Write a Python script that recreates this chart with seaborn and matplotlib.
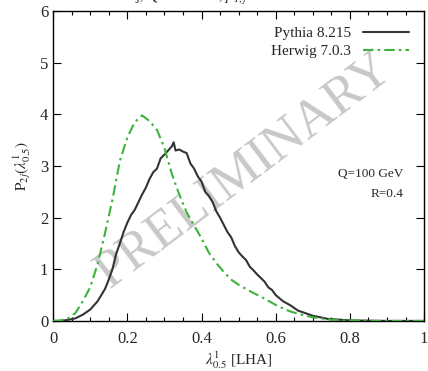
import numpy as np
import pandas as pd
import matplotlib
matplotlib.use("Agg")
import matplotlib.pyplot as plt
import seaborn as sns
from matplotlib.ticker import MultipleLocator

# ---- data ----
pythia_x = [0, 0.02, 0.04, 0.06, 0.08, 0.10, 0.12, 0.13, 0.14, 0.15, 0.16, 0.17, 0.18, 0.19,
            0.20, 0.21, 0.22, 0.23, 0.24, 0.25, 0.26, 0.27, 0.28, 0.29, 0.30, 0.31, 0.32, 0.325,
            0.33, 0.34, 0.35, 0.36, 0.37, 0.38, 0.39, 0.40, 0.41, 0.42, 0.43, 0.44, 0.45, 0.46,
            0.47, 0.48, 0.49, 0.50, 0.51, 0.52, 0.53, 0.54, 0.55, 0.56, 0.57, 0.58, 0.59, 0.60,
            0.62, 0.64, 0.66, 0.68, 0.70, 0.72, 0.74, 0.76, 0.78, 0.80, 0.85, 0.90, 1.00]
pythia_y = [0, 0.0, 0.02, 0.05, 0.12, 0.22, 0.38, 0.50, 0.62, 0.80, 1.00, 1.30, 1.50, 1.72,
            1.90, 2.05, 2.15, 2.30, 2.45, 2.58, 2.75, 2.88, 2.95, 3.15, 3.22, 3.30, 3.38, 3.46,
            3.30, 3.32, 3.28, 3.25, 3.05, 2.95, 2.80, 2.70, 2.50, 2.42, 2.30, 2.12, 2.00, 1.86,
            1.72, 1.62, 1.45, 1.33, 1.25, 1.18, 1.05, 0.98, 0.90, 0.83, 0.76, 0.65, 0.60, 0.50,
            0.38, 0.30, 0.20, 0.15, 0.10, 0.07, 0.04, 0.03, 0.02, 0.01, 0.005, 0.0, 0.0]

herwig_x = [0, 0.02, 0.04, 0.06, 0.08, 0.10, 0.12, 0.14, 0.16, 0.18, 0.20, 0.22, 0.24, 0.26,
            0.28, 0.30, 0.32, 0.34, 0.36, 0.38, 0.40, 0.42, 0.44, 0.46, 0.48, 0.50, 0.52, 0.54,
            0.56, 0.58, 0.60, 0.62, 0.64, 0.66, 0.68, 0.70, 0.72, 0.74, 0.76, 0.78, 0.80, 0.85,
            0.90, 1.00]
herwig_y = [0, 0.01, 0.05, 0.15, 0.38, 0.65, 1.10, 1.70, 2.35, 3.10, 3.55, 3.85, 3.98, 3.87,
            3.70, 3.35, 2.85, 2.45, 2.10, 1.85, 1.60, 1.32, 1.12, 0.95, 0.80, 0.70, 0.62, 0.54,
            0.47, 0.39, 0.31, 0.24, 0.18, 0.14, 0.10, 0.07, 0.05, 0.03, 0.02, 0.01, 0.01, 0.0,
            0.0, 0.0]

series_names = ["Pythia 8.215", "Herwig 7.0.3"]
x_ticks = [0, 0.2, 0.4, 0.6, 0.8, 1.0]
x_tick_labels = ["0", "0.2", "0.4", "0.6", "0.8", "1"]

df = pd.concat([
    pd.DataFrame({"x": pythia_x, "y": pythia_y, "gen": series_names[0]}),
    pd.DataFrame({"x": herwig_x, "y": herwig_y, "gen": series_names[1]}),
])

sns.set_theme(style="ticks")
plt.rcParams["font.family"] = ["Liberation Serif", "DejaVu Serif"]
plt.rcParams["mathtext.fontset"] = "stix"

fig = plt.figure(figsize=(4.28, 3.71), dpi=100)
ax = fig.add_axes([0.124, 0.135, 0.867, 0.835])

palette = {series_names[0]: "#333333", series_names[1]: "#3cb33c"}
sns.lineplot(data=df, x="x", y="y", hue="gen", palette=palette, ax=ax,
             linewidth=1.5, legend=False, sort=False, zorder=3)
ax.lines[1].set_dashes([5, 2, 1.2, 2])

# watermark
ax.text(0.515, 2.9, "PRELIMINARY", rotation=37, fontsize=38, color="#c8c8c8",
        ha="center", va="center", zorder=1)

ax.set_xlim(0, 1)
ax.set_ylim(0, 6)
ax.xaxis.set_minor_locator(MultipleLocator(0.05))
ax.yaxis.set_major_locator(MultipleLocator(1))
ax.set_xticks(x_ticks)
ax.set_xticklabels(x_tick_labels)
ax.tick_params(which="both", direction="in", top=True, right=True, labelsize=12,
               color="black", width=0.8)
ax.tick_params(which="major", length=6)
ax.tick_params(which="minor", length=3)
ax.tick_params(axis="x", pad=7)
for s in ax.spines.values():
    s.set_color("black")
    s.set_linewidth(1.0)

ax.set_xlabel(r"$\lambda^{1}_{0.5}$ [LHA]", fontsize=11, labelpad=2)
ax.set_ylabel(r"$\mathrm{P}_{2j}(\lambda^{1}_{0.5})$", fontsize=11, labelpad=5)

leg = ax.legend(handles=ax.lines[:2], labels=series_names, loc="upper right",
                frameon=False, markerfirst=False, fontsize=11, handlelength=3.0,
                borderaxespad=0.6, labelspacing=0.3)

ax.text(0.945, 0.475, "Q=100 GeV", transform=ax.transAxes, ha="right", va="center",
        fontsize=9.5)
ax.text(0.945, 0.41, "R=0.4", transform=ax.transAxes, ha="right", va="center",
        fontsize=9.5)

fig.text(0.5, 1.005, r"Z+j, Q=100 GeV, $p_{T,j}$ > 50 GeV", ha="center", va="center",
         fontsize=10.5)

fig.savefig("out.png", dpi=100)
